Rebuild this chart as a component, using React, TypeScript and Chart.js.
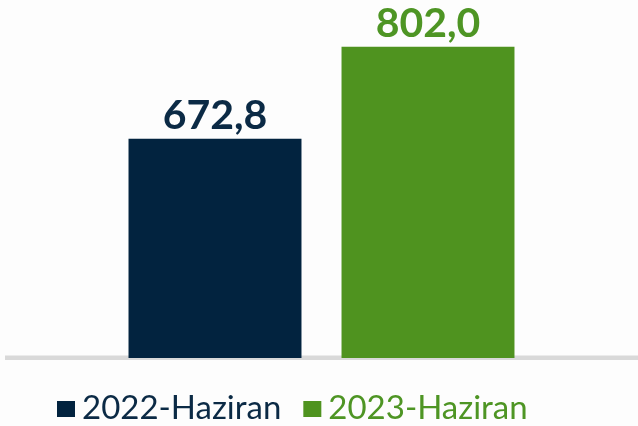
import React, { useEffect, useRef } from "react";
import { Chart, registerables } from "chart.js";

Chart.register(...registerables);

const categories: string[] = [""];
const seriesNames: string[] = ["2022-Haziran", "2023-Haziran"];
const values2022: number[] = [672.8];
const values2023: number[] = [802.0];
const valueLabels: string[] = ["672,8", "802,0"];
const barColors: string[] = ["#02233F", "#4F931F"];
const textColors: string[] = ["#0B2A45", "#4E9524"];

const overlayPlugin = {
  id: "overlay",
  beforeDatasetsDraw(chart: any) {
    const { ctx, chartArea } = chart;
    ctx.save();
    ctx.fillStyle = "#D9D9D9";
    ctx.fillRect(chartArea.left, chartArea.bottom - 2.5, chartArea.right - chartArea.left, 4.5);
    ctx.restore();
  },
  afterDatasetsDraw(chart: any) {
    const { ctx } = chart;
    ctx.save();
    ctx.textAlign = "center";
    ctx.textBaseline = "alphabetic";
    ctx.font = "bold 41px Lato";
    chart.data.datasets.forEach((ds: any, i: number) => {
      const meta = chart.getDatasetMeta(i);
      const bar = meta.data[0];
      ctx.fillStyle = textColors[i];
      ctx.fillText(valueLabels[i], bar.x, bar.y - 10);
    });
    // legend
    ctx.textAlign = "left";
    ctx.font = "33px Lato";
    let x = 57;
    const baseY = 419;
    seriesNames.forEach((name, i) => {
      ctx.fillStyle = barColors[i];
      ctx.fillRect(x, 401, 18, 16);
      x += 18 + 7;
      ctx.fillStyle = textColors[i];
      ctx.fillText(name, x, baseY);
      x += ctx.measureText(name).width + 22;
    });
    ctx.restore();
  },
};

export default function App() {
  const ref = useRef<HTMLCanvasElement | null>(null);
  useEffect(() => {
    document.body.style.margin = "0";
    document.body.style.background = "#FDFDFD";
    const chart = new Chart(ref.current as HTMLCanvasElement, {
      type: "bar",
      data: {
        labels: categories,
        datasets: [
          { label: seriesNames[0], data: values2022, backgroundColor: barColors[0] },
          { label: seriesNames[1], data: values2023, backgroundColor: barColors[1] },
        ],
      },
      options: {
        animation: false,
        responsive: false,
        maintainAspectRatio: false,
        layout: { padding: { left: 5, right: 0, top: 2, bottom: 68 } },
        datasets: { bar: { categoryPercentage: 0.673, barPercentage: 0.812 } },
        plugins: {
          legend: { display: false },
          tooltip: { enabled: false },
        },
        scales: {
          x: { display: false },
          y: { display: false, min: 365, max: 865 },
        },
      },
      plugins: [overlayPlugin],
    });
    return () => chart.destroy();
  }, []);
  return (
    <div style={{ width: 638, height: 426 }}>
      <canvas ref={ref} width={638} height={426} style={{ display: "block" }} />
    </div>
  );
}
